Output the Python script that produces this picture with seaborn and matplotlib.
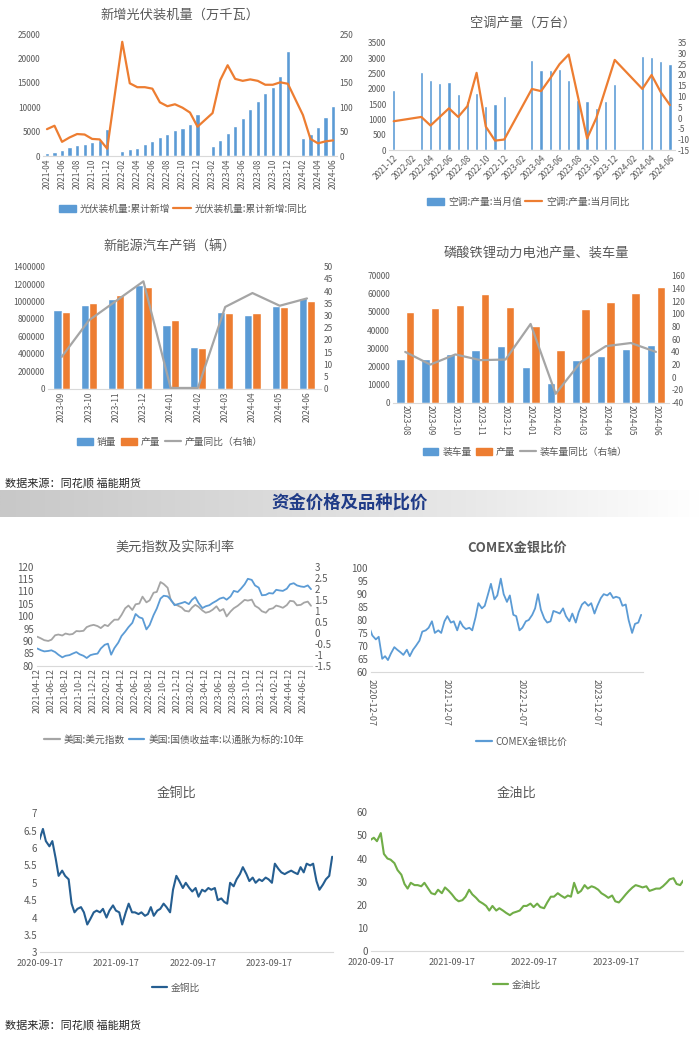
import numpy as np
import pandas as pd
import matplotlib
matplotlib.use('Agg')
import matplotlib.pyplot as plt
from matplotlib.patches import Patch
from matplotlib.lines import Line2D
from matplotlib.ticker import FuncFormatter
from matplotlib.colors import LinearSegmentedColormap
import seaborn as sns

nan = np.nan

# ---------------- data ----------------
pv_months = ['2021-04', '2021-05', '2021-06', '2021-07', '2021-08', '2021-09', '2021-10', '2021-11', '2021-12',
             '2022-01', '2022-02', '2022-03', '2022-04', '2022-05', '2022-06', '2022-07', '2022-08', '2022-09',
             '2022-10', '2022-11', '2022-12', '2023-01', '2023-02', '2023-03', '2023-04', '2023-05', '2023-06',
             '2023-07', '2023-08', '2023-09', '2023-10', '2023-11', '2023-12', '2024-01', '2024-02', '2024-03',
             '2024-04', '2024-05', '2024-06']
pv_cum = [560, 870, 1300, 1800, 2200, 2550, 2900, 3300, 5500,
          nan, 1050, 1350, 1700, 2400, 3100, 3800, 4450, 5260, 5800, 6500, 8700,
          nan, 2000, 3350, 4800, 6100, 7800, 9700, 11300, 12900, 14200, 16300, 21600,
          nan, 3670, 4600, 6000, 7900, 10200]
pv_yoy = [55, 62, 29, 38, 45, 44, 35, 34, 15,
          nan, 234, 149, 141, 141, 138, 110, 102, 106, 99, 89, 60,
          nan, 88, 155, 186, 158, 154, 157, 154, 146, 146, 151, 148,
          nan, 84, 35, 26, 30, 32]

ac_months = ['2021-12', '2022-01', '2022-02', '2022-03', '2022-04', '2022-05', '2022-06', '2022-07', '2022-08',
             '2022-09', '2022-10', '2022-11', '2022-12', '2023-01', '2023-02', '2023-03', '2023-04', '2023-05',
             '2023-06', '2023-07', '2023-08', '2023-09', '2023-10', '2023-11', '2023-12', '2024-01', '2024-02',
             '2024-03', '2024-04', '2024-05', '2024-06']
ac_val = [1970, nan, nan, 2550, 2280, 2190, 2220, 1830, 1600, 1870, 1440, 1520, 1770,
          nan, nan, 2930, 2600, 2610, 2640, 2300, 1650, 1610, 1380, 1600, 2150,
          nan, nan, 3080, 3030, 2900, 2800]
ac_yoy = [-1.5, nan, nan, 0.5, -3.5, 0.5, 4.5, 0.5, 5.5, 21, -4, -10.5, -10,
          nan, nan, 13.5, 12.5, 18.5, 25, 29.5, 10, -9.5, 0, 13.5, 27,
          nan, nan, 13.5, 20, 12, 6]

nev_months = ['2023-09', '2023-10', '2023-11', '2023-12', '2024-01', '2024-02', '2024-03', '2024-04', '2024-05', '2024-06']
nev_sales = [904000, 956000, 1026000, 1190000, 729000, 477000, 883000, 850000, 950000, 1046000]
nev_prod = [879000, 988000, 1071000, 1168000, 787000, 466000, 866000, 870000, 942000, 1006000]
nev_yoy = [13, 28, 36, 44, 0.3, 0.3, 33.5, 39.2, 34, 37]

lfp_months = ['2023-08', '2023-09', '2023-10', '2023-11', '2023-12', '2024-01', '2024-02', '2024-03', '2024-04', '2024-05', '2024-06']
lfp_install = [24300, 24300, 26800, 29200, 31300, 19900, 11100, 23500, 25600, 29500, 31800]
lfp_prod = [50200, 52000, 53700, 59800, 52600, 42400, 28800, 51400, 55600, 60700, 63900]
lfp_yoy = [40, 20, 36, 27, 28, 84, -26, 24, 49, 54, 40]

# semi-monthly readings of the daily series
dxy_start = '2021-04-15'
dxy = [91.7, 91.0, 90.3, 90.0, 90.5, 92.3, 92.6, 92.2, 93.0, 92.6,
       92.8, 94.0, 93.9, 94.1, 95.6, 96.2, 96.5, 96.0, 95.2, 96.5,
       96.0, 97.4, 98.6, 98.6, 100.5, 103.2, 104.3, 102.5, 104.8, 105.1,
       107.9, 105.6, 106.4, 109.5, 109.8, 113.8, 113.0, 111.5, 106.4, 104.8,
       104.3, 103.5, 102.2, 101.9, 103.5, 104.6, 103.8, 102.3, 101.4, 101.8,
       102.6, 104.0, 102.1, 102.9, 99.9, 101.9, 103.2, 104.2, 105.3, 106.6,
       106.3, 106.7, 104.2, 103.3, 102.0, 101.4, 102.8, 103.2, 104.3, 103.9,
       103.4, 104.5, 106.2, 106.0, 104.4, 104.6, 105.5, 105.9, 104.2]
tips10 = [-0.72, -0.80, -0.85, -0.83, -0.80, -0.88, -1.00, -1.12, -1.05, -1.02,
          -0.95, -0.88, -0.98, -1.05, -1.15, -1.02, -0.98, -0.95, -0.72, -0.55,
          -0.50, -1.00, -0.70, -0.45, -0.15, 0.05, 0.25, 0.45, 0.85, 0.70,
          0.65, 0.15, 0.35, 0.80, 1.10, 1.55, 1.68, 1.65, 1.50, 1.25,
          1.30, 1.35, 1.40, 1.30, 1.50, 1.62, 1.35, 1.12, 1.20, 1.25,
          1.35, 1.45, 1.55, 1.60, 1.50, 1.65, 1.90, 1.85, 2.00, 2.20,
          2.45, 2.40, 2.15, 2.05, 1.70, 1.72, 1.80, 1.78, 1.95, 1.92,
          1.90, 2.00, 2.20, 2.25, 2.15, 2.10, 2.08, 2.15, 1.98]
dxy_ticks = ['2021-04-12', '2021-06-12', '2021-08-12', '2021-10-12', '2021-12-12', '2022-02-12', '2022-04-12',
             '2022-06-12', '2022-08-12', '2022-10-12', '2022-12-12', '2023-02-12', '2023-04-12', '2023-06-12',
             '2023-08-12', '2023-10-12', '2023-12-12', '2024-02-12', '2024-04-12', '2024-06-12']

gsr_start = '2020-12-01'
gsr = [77, 74, 72.5, 73.5, 65, 66, 64.5, 67, 69.5, 68.5, 67.5,
       66.5, 68.5, 66, 68.5, 70, 72, 75.5, 76, 77, 79.5,
       75, 76, 75, 79.5, 81.5, 79, 79.5, 76, 79.5, 77.5,
       76.5, 77, 76, 81, 86.5, 84.5, 85.5, 90, 94, 88,
       89.5, 96, 90, 87, 89.5, 82, 81.5, 76, 77, 79.5,
       80, 82, 84.5, 90, 84, 80.5, 79, 79.5, 83.5, 83,
       82.5, 84.5, 81.5, 79.5, 82.5, 79, 83, 86, 87, 85.5,
       86.5, 82.5, 85.5, 88.5, 90, 89.5, 90.5, 88.5, 89, 88.5,
       85.5, 86, 80, 75, 78.5, 79, 82]
gsr_ticks = ['2020-12-07', '2021-12-07', '2022-12-07', '2023-12-07']

ratio_start = '2020-09-15'
gold_copper = [6.25, 6.55, 6.2, 6.05, 6.2, 5.7, 5.2, 5.35, 5.2, 5.1,
               4.4, 4.15, 4.25, 4.3, 4.15, 3.8, 3.95, 4.15, 4.2, 4.15,
               4.25, 4.0, 4.2, 4.35, 4.2, 4.15, 3.8, 4.15, 4.4, 4.15,
               4.15, 4.1, 4.15, 4.05, 4.1, 4.3, 4.05, 4.2, 4.25, 4.4,
               4.3, 4.15, 4.8, 5.2, 5.05, 4.85, 5.0, 4.85, 4.75, 4.85,
               4.6, 4.8, 4.75, 4.85, 4.8, 4.85, 4.5, 4.55, 4.45, 4.4,
               5.0, 4.9, 5.1, 5.25, 5.45, 5.25, 5.05, 5.15, 5.0, 5.1,
               5.05, 5.15, 5.1, 5.0, 5.55, 5.4, 5.3, 5.25, 5.3, 5.35,
               5.3, 5.25, 5.45, 5.3, 5.55, 5.5, 5.55, 5.05, 4.8, 4.95,
               5.1, 5.2, 5.75]
gold_oil = [48, 49, 47.5, 51, 42, 40, 39.5, 38, 35, 33,
            29, 27, 29.5, 28.5, 28.5, 28, 29.5, 27, 25, 24.5,
            26.5, 25, 27.5, 26, 24.5, 22.5, 21.5, 22, 23.5, 26.5,
            24.5, 23, 21.5, 20.5, 19.5, 17.5, 19.5, 17.5, 18.5, 17.5,
            16.5, 15.5, 16.5, 17, 17.5, 19.5, 19.5, 20.5, 19, 20.5,
            19, 18.5, 21, 23.5, 23.5, 25, 24, 23, 24, 23.5,
            29.5, 25, 26, 28.5, 27, 28, 27.5, 26.5, 25, 24,
            23, 24, 21.5, 21, 22.5, 24.5, 26, 27.5, 28.5, 28,
            27.5, 28, 26, 26.5, 27, 27, 28, 29.5, 31, 31.5,
            29, 28.5, 30.5]
ratio_ticks = ['2020-09-17', '2021-09-17', '2022-09-17', '2023-09-17']

# ---------------- style ----------------
sns.set_theme(style='white')
plt.rcParams['font.family'] = ['Noto Sans CJK SC', 'DejaVu Sans']
plt.rcParams['axes.unicode_minus'] = False

BLUE = '#5B9BD5'
ORANGE = '#ED7D31'
GRAY = '#A5A5A5'
TXT = '#595959'
AXC = '#D9D9D9'

W, H = 700, 1053
fig = plt.figure(figsize=(7, 10.53), dpi=100)
fig.patch.set_facecolor('white')


def fx(x):
    return x / W


def fy(y):
    return 1 - y / H


def add_ax(l, t, r, b):
    return fig.add_axes([l / W, 1 - b / H, (r - l) / W, (b - t) / H])


gfmt = FuncFormatter(lambda v, p: '{:g}'.format(v))
ifmt = FuncFormatter(lambda v, p: '{:.0f}'.format(v))


def style(ax, fs=6, xfs=None, tick=False):
    for s in ['top', 'right', 'left']:
        ax.spines[s].set_visible(False)
    ax.spines['bottom'].set_color(AXC)
    ax.spines['bottom'].set_linewidth(0.8)
    ax.tick_params(axis='y', labelsize=fs, colors=TXT, length=0, pad=2)
    ax.tick_params(axis='x', labelsize=xfs or fs, colors=TXT, length=3 if tick else 0,
                   color=AXC, pad=2)
    ax.set_xlabel('')
    ax.set_ylabel('')
    ax.grid(False)
    ax.set_facecolor('none')


def style_twin(ax, fs=6):
    for s in ['top', 'right', 'left', 'bottom']:
        ax.spines[s].set_visible(False)
    ax.tick_params(axis='y', labelsize=fs, colors=TXT, length=0, pad=2)
    ax.set_xlabel('')
    ax.set_ylabel('')
    ax.grid(False)


def title(cx, cy, s, fs=9.5, **kw):
    fig.text(fx(cx), fy(cy), s, ha='center', va='center', fontsize=fs, color=TXT, **kw)


def legend(cx, cy, handles, labels, fs=7, ncol=None, hl=1.6, cs=1.0):
    fig.legend(handles, labels, loc='center', bbox_to_anchor=(fx(cx), fy(cy)),
               ncol=ncol or len(handles), frameon=False, fontsize=fs, labelcolor=TXT,
               handlelength=hl, handleheight=0.8, handletextpad=0.4, columnspacing=cs,
               borderaxespad=0, borderpad=0)


def bar_line(ax, months, bars, line, line_color, ylim, yticks, y2lim, y2ticks,
             width, rot, every=1, hues=None, palette=None, gap=0):
    n = len(months)
    if hues is None:
        df = pd.DataFrame({'month': months, 'v': bars}).dropna()
        sns.barplot(data=df, x='month', y='v', order=months, color=BLUE, saturation=1,
                    width=width, errorbar=None, ax=ax)
    else:
        recs = []
        for name, vals in zip(hues, bars):
            for m, v in zip(months, vals):
                recs.append({'month': m, 'v': v, 's': name})
        df = pd.DataFrame(recs)
        sns.barplot(data=df, x='month', y='v', hue='s', order=months, hue_order=hues,
                    palette=palette, saturation=1, width=width, gap=gap,
                    errorbar=None, legend=False, ax=ax)
    ax.set_xlim(-0.5, n - 0.5)
    ax.set_ylim(*ylim)
    ax.set_yticks(yticks)
    ax.yaxis.set_major_formatter(ifmt)
    style(ax)
    pos = list(range(0, n, every))
    ax.set_xticks(pos)
    if rot == 45:
        ax.set_xticklabels([months[i] for i in pos], rotation=45, ha='right',
                           rotation_mode='anchor')
    else:
        ax.set_xticklabels([months[i] for i in pos], rotation=rot, ha='center', va='top')
    ax2 = ax.twinx()
    ld = pd.DataFrame({'x': np.arange(n), 'y': line}).dropna()
    sns.lineplot(data=ld, x='x', y='y', color=line_color, linewidth=1.6, ax=ax2)
    ax2.set_xlim(-0.5, n - 0.5)
    ax2.set_ylim(*y2lim)
    ax2.set_yticks(y2ticks)
    ax2.yaxis.set_major_formatter(gfmt)
    style_twin(ax2)
    return ax2


# ---------- panel 1: PV ----------
ax = add_ax(43.2, 34, 336.8, 156)
bar_line(ax, pv_months, pv_cum, pv_yoy, ORANGE, (0, 25000), range(0, 25001, 5000),
         (0, 250), range(0, 251, 50), width=0.55, rot=90, every=2)
title(180, 15, '新增光伏装机量（万千瓦）')
legend(183, 209, [Patch(color=BLUE), Line2D([], [], color=ORANGE, lw=1.6)],
       ['光伏装机量:累计新增', '光伏装机量:累计新增:同比'], hl=1.8, cs=0.3)

# ---------- panel 2: air conditioners ----------
ax = add_ax(389.1, 42.7, 674.6, 150.3)
bar_line(ax, ac_months, ac_val, ac_yoy, ORANGE, (0, 3500), range(0, 3501, 500),
         (-15, 35), range(-15, 36, 5), width=0.35, rot=45, every=2)
title(523, 23, '空调产量（万台）')
legend(528, 202, [Patch(color=BLUE), Line2D([], [], color=ORANGE, lw=1.6)],
       ['空调:产量:当月值', '空调:产量:当月同比'], hl=1.8, cs=0.3)

# ---------- panel 3: NEV ----------
ax = add_ax(48.0, 266.7, 320.6, 388.7)
bar_line(ax, nev_months, [nev_sales, nev_prod], nev_yoy, GRAY, (0, 1400000),
         range(0, 1400001, 200000), (0, 50), range(0, 51, 5), width=0.6, rot=90,
         hues=['销量', '产量'], palette=[BLUE, ORANGE])
title(170, 246.7, '新能源汽车产销（辆）')
legend(170, 441.7, [Patch(color=BLUE), Patch(color=ORANGE), Line2D([], [], color=GRAY, lw=1.6)],
       ['销量', '产量', '产量同比（右轴）'], hl=1.6, cs=0.5)

# ---------- panel 4: LFP ----------
ax = add_ax(392.7, 275.7, 668.5, 402.7)
bar_line(ax, lfp_months, [lfp_install, lfp_prod], lfp_yoy, GRAY, (0, 70000),
         range(0, 70001, 10000), (-40, 160), range(-40, 161, 20), width=0.76, rot=270,
         hues=['装车量', '产量'], palette=[BLUE, ORANGE], gap=0.12)
title(536.7, 253, '磷酸铁锂动力电池产量、装车量')
legend(525, 451.7, [Patch(color=BLUE), Patch(color=ORANGE), Line2D([], [], color=GRAY, lw=1.6)],
       ['装车量', '产量', '装车量同比（右轴）'], hl=1.6, cs=0.5)

# ---------- source + banner ----------
fig.text(fx(5), fy(483), '数据来源：同花顺 福能期货', ha='left', va='center', fontsize=8, color='#262626')
bax = fig.add_axes([0, fy(517), 1, (517 - 490) / H])
grad = np.linspace(0, 1, 256).reshape(1, -1)
cmap = LinearSegmentedColormap.from_list('band', ['#C8C8C8', '#D8D8D8', '#E8E8E8', '#FFFFFF'])
bax.imshow(grad, aspect='auto', cmap=cmap, extent=[0, 1, 0, 1])
bax.axis('off')
fig.text(0.5, fy(503), '资金价格及品种比价', ha='center', va='center', fontsize=12.5,
         fontweight='bold', color='#1F3B87')

# ---------- panel 5: dollar index & real rate ----------
dxy_dates = pd.date_range(dxy_start, periods=len(dxy), freq='SMS')
ax = add_ax(36.7, 566.7, 311.7, 665.7)
sns.lineplot(x=dxy_dates, y=dxy, color=GRAY, linewidth=1.3, ax=ax)
ax.set_ylim(80, 120)
ax.set_yticks(range(80, 121, 5))
ax.set_xlim(pd.Timestamp('2021-04-12'), pd.Timestamp('2024-07-18'))
style(ax, fs=7, xfs=6.3)
ax.set_xticks(pd.to_datetime(dxy_ticks))
ax.set_xticklabels(dxy_ticks, rotation=90, ha='center', va='top')
ax2 = ax.twinx()
sns.lineplot(x=dxy_dates, y=tips10, color=BLUE, linewidth=1.3, ax=ax2)
ax2.set_ylim(-1.5, 3)
ax2.set_yticks(np.arange(-1.5, 3.01, 0.5))
ax2.yaxis.set_major_formatter(gfmt)
ax2.set_xlim(pd.Timestamp('2021-04-12'), pd.Timestamp('2024-07-18'))
style_twin(ax2, fs=7)
title(175, 546.7, '美元指数及实际利率')
legend(174, 740, [Line2D([], [], color=GRAY, lw=1.6), Line2D([], [], color=BLUE, lw=1.6)],
       ['美国:美元指数', '美国:国债收益率:以通胀为标的:10年'], fs=7, hl=1.6, cs=0.4)

# ---------- panel 6: COMEX gold/silver ----------
gsr_dates = pd.date_range(gsr_start, periods=len(gsr), freq='SMS')
ax = add_ax(370.7, 568.3, 643.0, 671.7)
sns.lineplot(x=gsr_dates, y=gsr, color=BLUE, linewidth=1.3, ax=ax)
ax.set_ylim(60, 100)
ax.set_yticks(range(60, 101, 5))
ax.set_xlim(pd.Timestamp('2020-12-07'), pd.Timestamp('2024-07-24'))
style(ax, fs=7, xfs=6.5, tick=True)
ax.set_xticks(pd.to_datetime(gsr_ticks))
ax.set_xticklabels(gsr_ticks, rotation=270, ha='center', va='top')
title(516.7, 548, 'COMEX金银比价', fontweight='bold')
legend(522, 742, [Line2D([], [], color=BLUE, lw=1.6)], ['COMEX金银比价'], fs=7)

# ---------- panel 7: gold/copper ----------
r_dates = pd.date_range(ratio_start, periods=len(gold_copper), freq='SMS')
ax = add_ax(40, 813.3, 333, 952.3)
sns.lineplot(x=r_dates, y=gold_copper, color='#255E91', linewidth=1.5, ax=ax)
ax.set_ylim(3, 7)
ax.set_yticks(np.arange(3, 7.01, 0.5))
ax.yaxis.set_major_formatter(gfmt)
ax.set_xlim(pd.Timestamp('2020-09-17'), pd.Timestamp('2024-07-19'))
style(ax, fs=7, xfs=6.5, tick=True)
ax.set_xticks(pd.to_datetime(ratio_ticks))
ax.set_xticklabels(ratio_ticks, rotation=0, ha='center')
title(176.7, 793, '金铜比')
legend(176, 988, [Line2D([], [], color='#255E91', lw=1.6)], ['金铜比'], fs=7)

# ---------- panel 8: gold/oil ----------
r_dates2 = pd.date_range(ratio_start, periods=len(gold_oil), freq='SMS')
ax = add_ax(370.7, 812.3, 683.3, 951)
sns.lineplot(x=r_dates2, y=gold_oil, color='#70AD47', linewidth=1.5, ax=ax)
ax.set_ylim(0, 60)
ax.set_yticks(range(0, 61, 10))
ax.set_xlim(pd.Timestamp('2020-09-17'), pd.Timestamp('2024-07-15'))
style(ax, fs=7, xfs=6.5, tick=True)
ax.set_xticks(pd.to_datetime(ratio_ticks))
ax.set_xticklabels(ratio_ticks, rotation=0, ha='center')
title(516.7, 793, '金油比')
legend(517, 985, [Line2D([], [], color='#70AD47', lw=1.6)], ['金油比'], fs=7)

fig.text(fx(5), fy(1025.5), '数据来源：同花顺 福能期货', ha='left', va='center', fontsize=8, color='#262626')

fig.savefig('out.png', dpi=100, facecolor='white')
